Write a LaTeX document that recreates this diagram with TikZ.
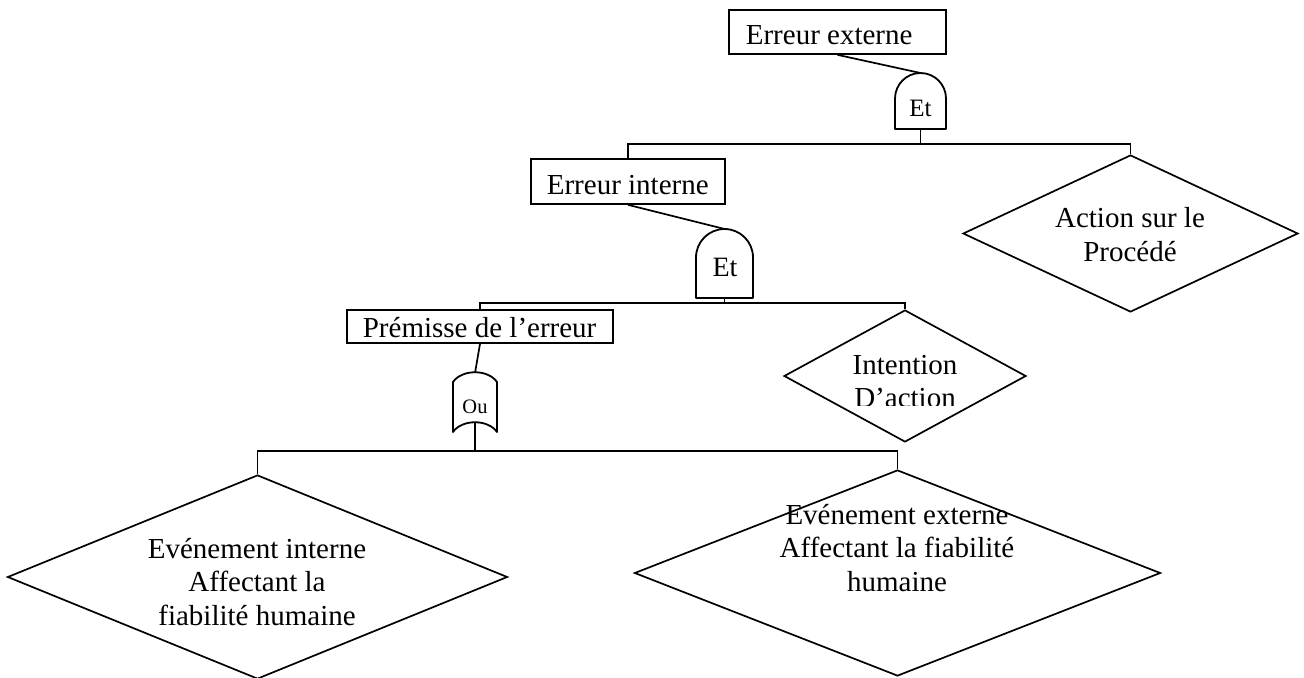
\documentclass[tikz,border=0pt]{standalone}
\usepackage{fontspec}
\setmainfont{Liberation Serif}
\usetikzlibrary{shapes.geometric}
\begin{document}
\begin{tikzpicture}[x=1bp,y=1bp,line width=1.7bp,
  box/.style={draw,rectangle,inner sep=0pt},
  dia/.style={draw,diamond,inner sep=0pt},
  lbl/.style={inner sep=0pt,font=\fontsize{29bp}{34bp}\selectfont},
  mlbl/.style={inner sep=0pt,align=center,font=\fontsize{29bp}{33.5bp}\selectfont},
  gate/.style={line width=1.8bp,line join=round},
  glbl/.style={inner sep=0pt,anchor=base}]
\useasboundingbox (0,0) rectangle (1304,-677);

% boxes
\node[box,minimum width=217bp,minimum height=44bp] (ee) at (837.5,-32) {};
\node[lbl,anchor=base west] (eet) at (745,-45) {Erreur externe};
\node[box,minimum width=194bp,minimum height=45bp] (ei) at (628,-181.5) {};
\node[lbl,anchor=base west] (eit) at (546,-194) {Erreur interne};
\node[box,minimum width=266bp,minimum height=33bp] (pm) at (480,-326.5) {};
\node[lbl,anchor=base west] (pmt) at (362,-337) {Prémisse de l’erreur};

% diamonds (text node base = baseline of last line)
\node[dia,minimum width=335bp,minimum height=157bp] (act) at (1130.5,-233.5) {};
\node[mlbl,anchor=base] (actt) at (1130,-261) {Action sur le\\Procédé};
\node[dia,minimum width=242bp,minimum height=132bp] (int) at (905,-376) {};
\begin{scope}
\clip (780,-300) rectangle (1030,-405);
\node[mlbl,anchor=base] (intt) at (905,-407.5) {Intention\\D’action};
\end{scope}
\node[dia,minimum width=500bp,minimum height=204bp] (evi) at (257.5,-577) {};
\node[mlbl,anchor=base] (evit) at (257,-625) {Evénement interne\\Affectant la\\fiabilité humaine};
\node[dia,minimum width=526bp,minimum height=206bp] (eve) at (897.5,-573) {};
\node[mlbl,anchor=base] (evet) at (897,-591) {Evénement externe\\Affectant la fiabilité\\humaine};

% gate 1 (Et)
\coordinate (g1top) at (920.5,-73);
\coordinate (g1bot) at (920.5,-129);
\draw[gate] (895,-129) -- (895,-98.5) arc[start angle=180,end angle=0,radius=25.5] -- (946,-129) -- cycle;
\node[glbl,font=\fontsize{25bp}{30bp}\selectfont] (g1t) at (920.5,-117) {Et};

% gate 2 (Et)
\coordinate (g2top) at (724.5,-229);
\coordinate (g2bot) at (724.5,-298);
\draw[gate] (696,-298) -- (696,-257.5) arc[start angle=180,end angle=0,radius=28.5] -- (753,-298) -- cycle;
\node[glbl,font=\fontsize{28bp}{32bp}\selectfont] (g2t) at (725,-276) {Et};

% gate 3 (Ou)
\coordinate (outop) at (475,-373);
\coordinate (oubot) at (475,-422);
\draw[gate] (453,-432) -- (453,-382) .. controls (462,-369) and (488,-369) .. (497,-382)
  -- (497,-432) .. controls (488,-419) and (462,-419) .. (453,-432) -- cycle;
\node[glbl,font=\fontsize{20.5bp}{24bp}\selectfont] (g3t) at (475,-413) {Ou};

% junctions
\coordinate (j1) at (920.5,-144);
\coordinate (j2) at (724.5,-303);
\coordinate (j3) at (475,-451);

% connectors
\draw (ee.south) -- (g1top);
\draw (g1bot) -- (j1) -| (ei.north);
\draw (j1) -| (act.north);
\draw (ei.south) -- (g2top);
\draw (g2bot) -- (j2) -| (pm.north);
\draw (j2) -| (int.north);
\draw (pm.south) -- (outop);
\draw (oubot) -- (j3) -| (evi.north);
\draw (j3) -| (eve.north);
\end{tikzpicture}
\end{document}
